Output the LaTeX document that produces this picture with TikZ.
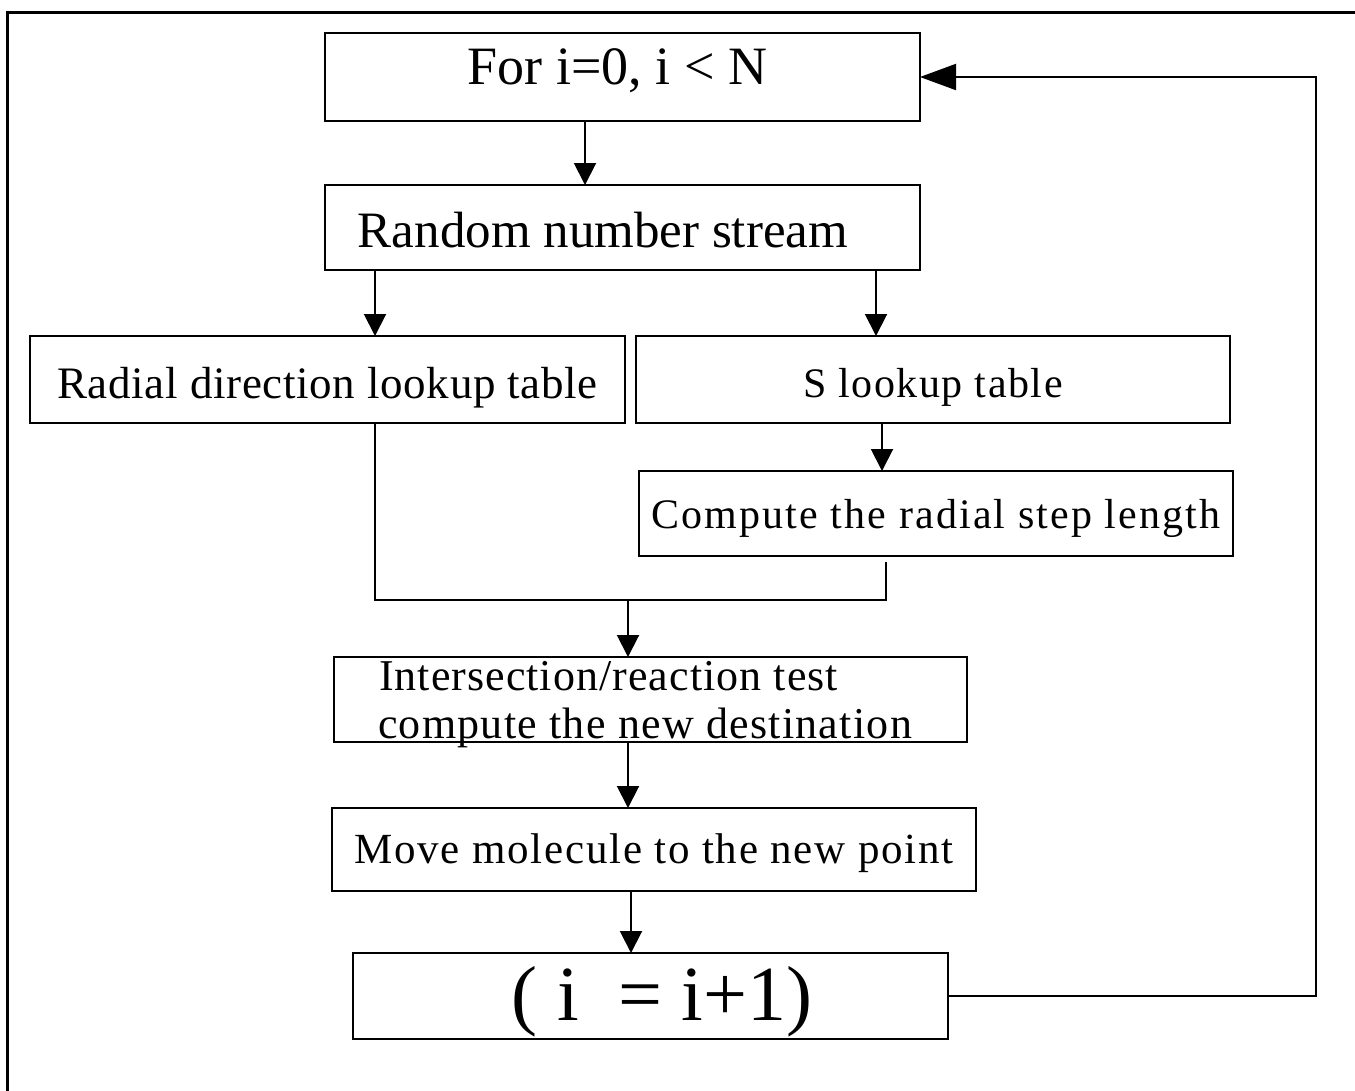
\documentclass[tikz,border=0pt]{standalone}
\usepackage{fontspec}
\setmainfont{Liberation Serif}
\usetikzlibrary{arrows.meta,calc}
\newcommand\myfs[1]{\fontsize{#1}{#1}\selectfont}
\newcommand\myls[1]{\addfontfeatures{LetterSpace=#1}}
\begin{document}
\begin{tikzpicture}[x=1pt,y=-1pt,
  box/.style={draw, line width=2pt, rectangle, inner sep=0pt, outer sep=0pt, anchor=north west},
  arr/.style={line width=2pt, -{Triangle[length=22pt,width=22pt]}},
  looparr/.style={line width=2pt, -{Triangle[length=36pt,width=26pt]}},
  ln/.style={line width=2pt},
  txt/.style={inner sep=0pt, outer sep=0pt, anchor=base west}]
\useasboundingbox (0,0) rectangle (1355,1090);
\fill[white] (0,0) rectangle (1355,1090);
\draw[line width=3pt] (7,1092) -- (7,12) -- (1357,12);

\node[box, minimum width=595pt, minimum height=88pt, text height=51pt, text depth=37pt, font=\myfs{54}] (box1) at (325,33) {For i=0, i < N\hspace*{10pt}};
\node[box, minimum width=595pt, minimum height=85pt, text height=62pt, text depth=23pt, font=\myfs{51}] (box2) at (325,185) {Random number stream\hspace*{39pt}};
\node[box, minimum width=595pt, minimum height=87pt, text height=62pt, text depth=25pt, font=\myfs{45}\myls{1.5}] (box3) at (30,336) {Radial direction lookup table};
\node[box, minimum width=594pt, minimum height=87pt, text height=61pt, text depth=26pt, font=\myfs{42}\myls{3.6}] (box4) at (636,336) {S lookup table};
\node[box, minimum width=594pt, minimum height=85pt, text height=57pt, text depth=28pt, font=\myfs{42}\myls{5.1}] (box5) at (639,471) {Compute the radial step length};
\node[box, minimum width=633pt, minimum height=85pt] (box6) at (334,657) {};
\node[txt, font=\myfs{44}\myls{2.4}] (t6a) at (379,690) {Intersection/reaction test};
\node[txt, font=\myfs{44}\myls{2.9}] (t6b) at (378,738) {compute the new destination};
\node[box, minimum width=644pt, minimum height=83pt, text height=55pt, text depth=28pt, font=\myfs{43}\myls{4}] (box7) at (332,808) {Move molecule to the new point};
\node[box, minimum width=595pt, minimum height=86pt, text height=67pt, text depth=19pt, font=\myfs{78}] (box8) at (353,953) {\hspace*{23pt}( i\ \ = i+1)};

\path ([xshift=260pt]box1.south west) coordinate (a1);
\draw[arr] (a1) -- (a1 |- box2.north);
\path ([xshift=50pt]box2.south west) coordinate (a2);
\draw[arr] (a2) -- (a2 |- box3.north);
\path ([xshift=551pt]box2.south west) coordinate (a3);
\draw[arr] (a3) -- (a3 |- box4.north);
\path ([xshift=246pt]box4.south west) coordinate (a4);
\draw[arr] (a4) -- (a4 |- box5.north);

\path ([xshift=345pt]box3.south west) coordinate (m1);
\path ([xshift=247pt,yshift=-6pt]box5.south west) coordinate (m2);
\coordinate (jn) at (628,600);
\draw[ln] (m1) -- (m1 |- jn) -- (m2 |- jn) -- (m2);
\draw[arr] (jn) -- (jn |- box6.north);

\path ([xshift=294pt]box6.south west) coordinate (a6);
\draw[arr] (a6) -- (a6 |- box7.north);
\path ([xshift=299pt]box7.south west) coordinate (a7);
\draw[arr] (a7) -- (a7 |- box8.north);

\draw[looparr] (box8.east) -- ++(368,0) |- (box1.east);
\end{tikzpicture}
\end{document}
